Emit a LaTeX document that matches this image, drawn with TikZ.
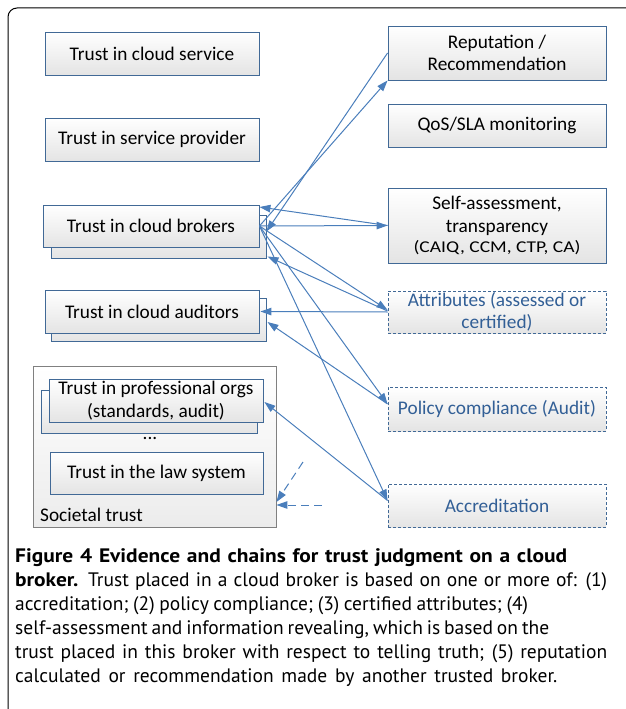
\documentclass[tikz,border=0pt]{standalone}
\usepackage{fontspec}
\setmainfont{Carlito}
\newfontfamily\capfont{PT Sans}[BoldFeatures={FakeStretch=1.1}]
\newfontfamily\smallfont{Carlito}[FakeStretch=1.18]
\usetikzlibrary{arrows.meta,calc}
\definecolor{bordc}{RGB}{65,105,150}
\definecolor{linec}{RGB}{74,126,187}
\definecolor{bluetxt}{RGB}{50,95,150}
\definecolor{boxbot}{RGB}{228,228,228}
\definecolor{socbord}{RGB}{128,128,128}
\tikzset{
  box/.style={draw=bordc, line width=0.9pt, top color=white, bottom color=boxbot,
    minimum width=214pt, minimum height=43pt, inner sep=0pt, align=center,
    font=\fontsize{19.3}{22.5}\selectfont},
  dbox/.style={box, dash pattern=on 3pt off 2pt, text=bluetxt},
  conn/.style={draw=linec, line width=1pt, -{Triangle[length=11pt,width=7.5pt]}},
  dconn/.style={conn, dash pattern=on 8pt off 5pt},
  captxt/.style={anchor=base west, inner sep=0pt, font=\capfont\fontsize{19.5}{24}\selectfont}
}
\newcommand{\capline}[2]{\makebox[#1pt][s]{#2}}
\begin{document}
\begin{tikzpicture}[x=1pt,y=-1pt]
\useasboundingbox (0,0) rectangle (625,709);
% outer frame
\draw[line width=1pt, rounded corners=9pt] (8,720) -- (8,8) -- (640,8);
% left column
\node[box] (svc) at (152,53.5) {Trust in cloud service};
\node[box] (prov) at (152,139.5) {Trust in service provider};
\node[box, minimum width=215pt] (brokerback) at (158.5,236.5) {};
\node[box, minimum width=216pt, minimum height=42pt] (broker) at (151,226) {Trust in cloud brokers};
\node[box, minimum width=215pt] (audback) at (158.5,319.5) {};
\node[box] (aud) at (152,311.5) {Trust in cloud auditors};
\node[draw=socbord, line width=0.9pt, top color=white, bottom color={rgb,255:red,236;green,236;blue,236},
  minimum width=243pt, minimum height=161pt, inner sep=0pt] (soc) at (154.5,446.5) {};
\node[box, minimum width=216pt] (profback) at (149,411.5) {};
\node[box] (prof) at (156,400.5) {Trust in professional orgs\\(standards, audit)};
\node[font=\fontsize{19.3}{20}\selectfont, inner sep=0pt] (dots) at (150,438) {...};
\node[box, minimum width=213pt, minimum height=42pt] (law) at (156.5,473) {Trust in the law system};
\node[anchor=base west, inner sep=0pt, font=\fontsize{19.3}{20}\selectfont] (soclbl) at (40,521) {Societal trust};
% right column
\node[box, minimum width=218pt, minimum height=54pt] (rep) at (497,53) {Reputation /\\Recommendation};
\node[box, minimum width=218pt] (qos) at (497,125.5) {QoS/SLA monitoring};
\node[box, minimum width=218pt, minimum height=75pt] (sa) at (497,225.5)
  {Self-assessment,\\transparency\\[-2pt]{\smallfont\fontsize{16.5}{18}\selectfont (CAIQ, CCM, CTP, CA)}};
\node[dbox, minimum width=218pt, minimum height=42pt] (attr) at (497,312) {Attributes (assessed or\\certified)};
\node[dbox, minimum width=218pt, minimum height=44pt] (pol) at (497,409) {Policy compliance (Audit)};
\node[dbox, minimum width=218pt] (acc) at (497,505.5) {Accreditation};
% connectors
\coordinate (hub) at (broker.east);
\draw[conn] (hub) -- (rep.south west);
\draw[conn] (rep.west) -- ([yshift=5pt]brokerback.east);
\draw[conn] (hub) -- (sa.west);
\draw[conn] (sa.west) -- ([yshift=19pt]broker.east);
\draw[conn] (hub) -- ([yshift=2pt]attr.west);
\draw[conn] ([yshift=1pt]attr.west) -- ([xshift=1pt,yshift=2pt]brokerback.south east);
\draw[conn] (attr.west) -- ([xshift=1pt]aud.east);
\draw[conn] (hub) -- ([yshift=5pt]pol.west);
\draw[conn] ([yshift=5pt]pol.west) -- ([xshift=1pt,yshift=-2.5pt]audback.east);
\draw[conn] (hub) -- ([yshift=5pt]acc.west);
\draw[conn] ([yshift=5pt]acc.west) -- ([xshift=1pt,yshift=-1.5pt]prof.east);
\coordinate (d1) at (303,462);
\coordinate (d2) at (322,505);
\draw[dconn] (d1) -- ([yshift=-55.5pt]soc.east);
\draw[dconn] (d2) -- ([yshift=-58.5pt]soc.east);
% caption
\node[captxt] (c1) at (15,562) {\capline{552}{\bfseries Figure 4 Evidence and chains for trust judgment on a cloud}};
\node[captxt] (c2) at (15,586) {\capline{592}{\textbf{broker.} Trust placed in a cloud broker is based on one or more of: (1)}};
\node[captxt] (c3) at (15,610) {\capline{513}{accreditation; (2) policy compliance; (3) certified attributes; (4)}};
\node[captxt] (c4) at (15,634) {\capline{534}{self-assessment and information revealing, which is based on the}};
\node[captxt] (c5) at (15,658) {\capline{592}{trust placed in this broker with respect to telling truth; (5) reputation}};
\node[captxt] (c6) at (15,682) {\capline{542}{calculated or recommendation made by another trusted broker.}};
\end{tikzpicture}
\end{document}
